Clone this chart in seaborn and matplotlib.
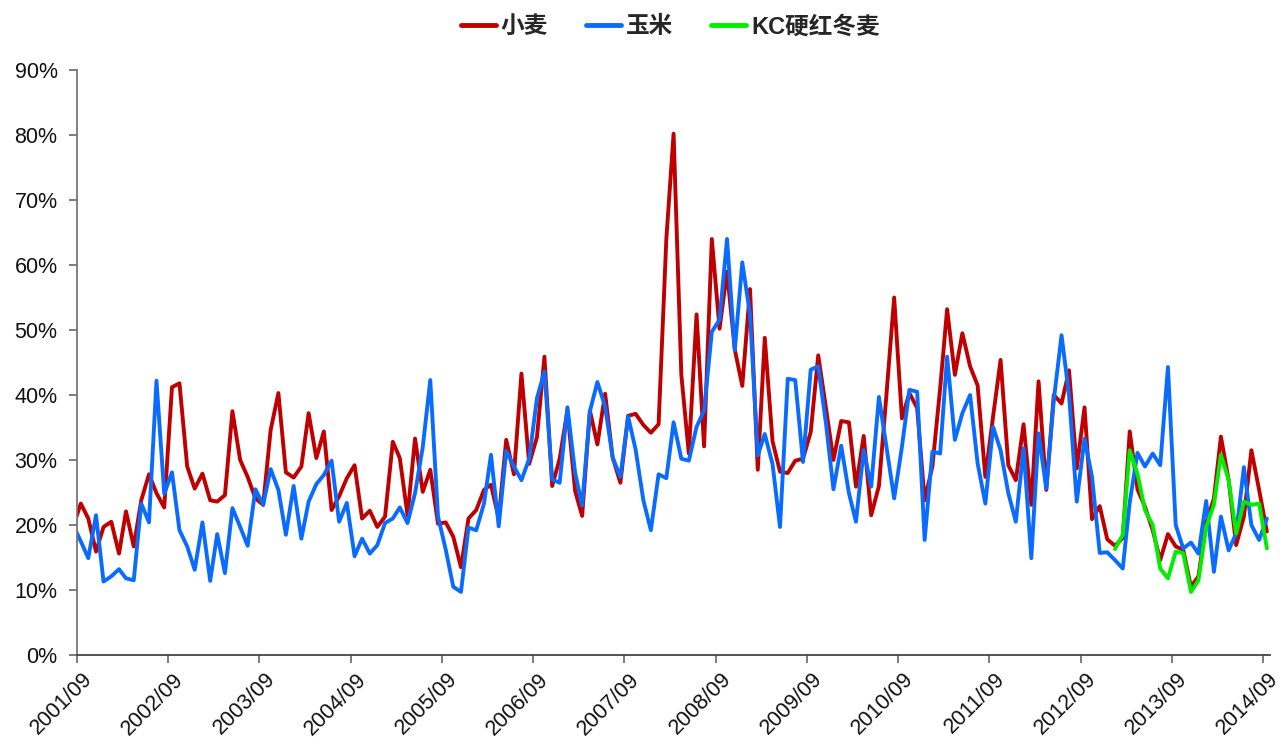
import seaborn as sns
import matplotlib.pyplot as plt
import matplotlib.dates as mdates
from matplotlib.ticker import PercentFormatter
import matplotlib.transforms as mtransforms
import pandas as pd

# monthly series, 2001/08 .. 2014/09 (first point is clipped by the axis)
wheat = [
    19.7, 23.3, 21.0, 15.9, 19.7, 20.5, 15.6, 22.1, 16.7, 23.8, 27.8, 24.9, 22.7,
    41.2, 41.8, 29.0, 25.6, 27.9, 23.8, 23.6, 24.6, 37.5, 30.0, 27.4, 24.1,
    23.1, 34.6, 40.3, 28.1, 27.3, 29.0, 37.2, 30.3, 34.4, 22.3, 24.4, 27.2,
    29.2, 21.0, 22.2, 19.7, 21.3, 32.8, 30.3, 21.5, 33.3, 25.1, 28.5, 20.2,
    20.4, 18.2, 13.5, 21.0, 22.3, 25.4, 26.2, 21.0, 33.1, 27.8, 43.3, 29.4,
    33.5, 45.9, 26.0, 30.2, 37.6, 25.2, 21.4, 37.6, 32.4, 40.2, 30.4, 26.5,
    36.8, 37.1, 35.4, 34.2, 35.5, 64.0, 80.2, 43.1, 31.0, 52.4, 32.1, 64.0,
    50.2, 59.0, 47.0, 41.4, 56.3, 28.5, 48.8, 32.9, 28.2, 28.0, 29.9, 30.2,
    34.3, 46.1, 38.0, 30.0, 36.0, 35.8, 25.9, 33.7, 21.5, 26.0, 40.0, 55.0,
    36.4, 40.3, 38.0, 23.8, 29.0, 41.0, 53.2, 43.1, 49.5, 44.4, 41.5, 27.4,
    36.7, 45.4, 29.2, 26.9, 35.5, 23.1, 42.1, 25.4, 40.0, 38.7, 43.8, 28.7,
    38.1, 20.9, 22.9, 17.8, 16.8, 18.0, 34.4, 25.5, 22.8, 19.2, 14.6, 18.6,
    16.7, 16.2, 10.5, 12.1, 20.3, 24.1, 33.6, 26.9, 16.9, 21.3, 31.5, 25.4,
    19.0,
]
corn = [
    20.0, 17.5, 14.9, 21.5, 11.3, 12.1, 13.2, 11.8, 11.5, 23.3, 20.4, 42.2, 24.8,
    28.1, 19.2, 16.7, 13.1, 20.4, 11.4, 18.6, 12.6, 22.6, 19.7, 16.8, 25.5,
    23.1, 28.6, 25.4, 18.5, 26.0, 17.9, 23.6, 26.3, 27.7, 29.9, 20.5, 23.4,
    15.2, 17.9, 15.6, 16.9, 20.3, 21.0, 22.7, 20.3, 24.9, 32.0, 42.3, 21.3,
    16.2, 10.5, 9.7, 19.6, 19.2, 23.3, 30.8, 19.8, 31.4, 29.0, 26.9, 30.2,
    39.5, 43.6, 27.0, 26.5, 38.1, 28.0, 23.0, 37.5, 42.0, 38.2, 30.4, 27.4,
    36.7, 31.6, 23.8, 19.2, 27.8, 27.2, 35.8, 30.2, 29.9, 35.1, 37.6, 49.7,
    51.6, 64.0, 46.9, 60.4, 52.4, 30.7, 34.0, 29.4, 19.7, 42.5, 42.3, 29.7,
    43.9, 44.4, 35.6, 25.5, 32.2, 24.9, 20.5, 31.5, 25.9, 39.7, 32.0, 24.1,
    32.0, 40.8, 40.5, 17.7, 31.3, 31.0, 45.9, 33.1, 37.2, 40.0, 29.5, 23.3,
    35.1, 31.5, 24.9, 20.5, 31.8, 14.9, 34.1, 25.6, 39.2, 49.2, 40.0, 23.6,
    33.3, 27.4, 15.7, 15.8, 14.6, 13.3, 23.5, 31.1, 29.0, 31.0, 29.2, 44.3,
    20.0, 16.4, 17.3, 15.6, 23.7, 12.8, 21.3, 16.1, 18.7, 28.9, 20.0, 17.7,
    21.0,
]
# KC hard red winter wheat, 2013/01 .. 2014/09
kc_start = "2013-01"
kc = [
    16.3, 18.5, 31.5, 27.9, 22.3, 20.0, 13.3, 11.8, 15.9, 15.7, 9.7, 11.5,
    19.7, 23.1, 30.8, 26.9, 18.7, 23.6, 23.1, 23.3, 16.4,
]

names = ["小麦", "玉米", "KC硬红冬麦"]
colors = ["#C00000", "#0A6CFF", "#00EE00"]

months = pd.date_range("2001-08-01", periods=len(wheat), freq="MS") + pd.Timedelta(days=15)
kc_months = pd.date_range(kc_start, periods=len(kc), freq="MS") + pd.Timedelta(days=15)

df = pd.concat([
    pd.DataFrame({"date": months, "value": wheat, "series": names[0]}),
    pd.DataFrame({"date": months, "value": corn, "series": names[1]}),
    pd.DataFrame({"date": kc_months, "value": kc, "series": names[2]}),
])

sns.set_style("white")
plt.rcParams["font.family"] = ["Liberation Sans", "Noto Sans CJK SC"]

fig = plt.figure(figsize=(12.84, 7.49), dpi=100)
ax = fig.add_axes([0.06, 0.1255, 0.929, 0.781])

sns.lineplot(data=df, x="date", y="value", hue="series", hue_order=names,
             palette=colors, linewidth=2.8, ax=ax, legend=False)

ax.set_ylim(0, 90)
ax.set_yticks(range(0, 91, 10))
ax.yaxis.set_major_formatter(PercentFormatter(decimals=0))
ax.set_xlim(pd.Timestamp("2001-09-01"), pd.Timestamp("2014-09-28"))
ax.set_xticks(pd.date_range("2001-09-01", "2014-09-01", freq="12MS"))
ax.xaxis.set_major_formatter(mdates.DateFormatter("%Y/%m"))
ax.set_xlabel("")
ax.set_ylabel("")

ax.tick_params(axis="both", labelsize=15.5, length=6, width=1.2, direction="out",
               color="#666666", bottom=True, left=True, labelcolor="#111111")
ax.tick_params(axis="y", pad=8)
ax.tick_params(axis="x", pad=4)
shift = mtransforms.ScaledTranslation(5 / 100, 0, fig.dpi_scale_trans)
for lbl in ax.get_xticklabels():
    lbl.set_rotation(45)
    lbl.set_ha("right")
    lbl.set_rotation_mode("anchor")
    lbl.set_transform(lbl.get_transform() + shift)

for side in ["top", "right"]:
    ax.spines[side].set_visible(False)
ax.spines["left"].set_color("#777777")
ax.spines["bottom"].set_color("#444444")
for side in ["left", "bottom"]:
    ax.spines[side].set_linewidth(1.3)

handles = [plt.Line2D([], [], color=c, linewidth=3.5) for c in colors]
fig.legend(handles, names, loc="upper center", bbox_to_anchor=(0.522, 1.008), ncol=3,
           frameon=False, prop={"size": 17, "weight": "bold"}, handlelength=1.5,
           handletextpad=0.2, columnspacing=1.6)

fig.savefig("out.png", dpi=100)
